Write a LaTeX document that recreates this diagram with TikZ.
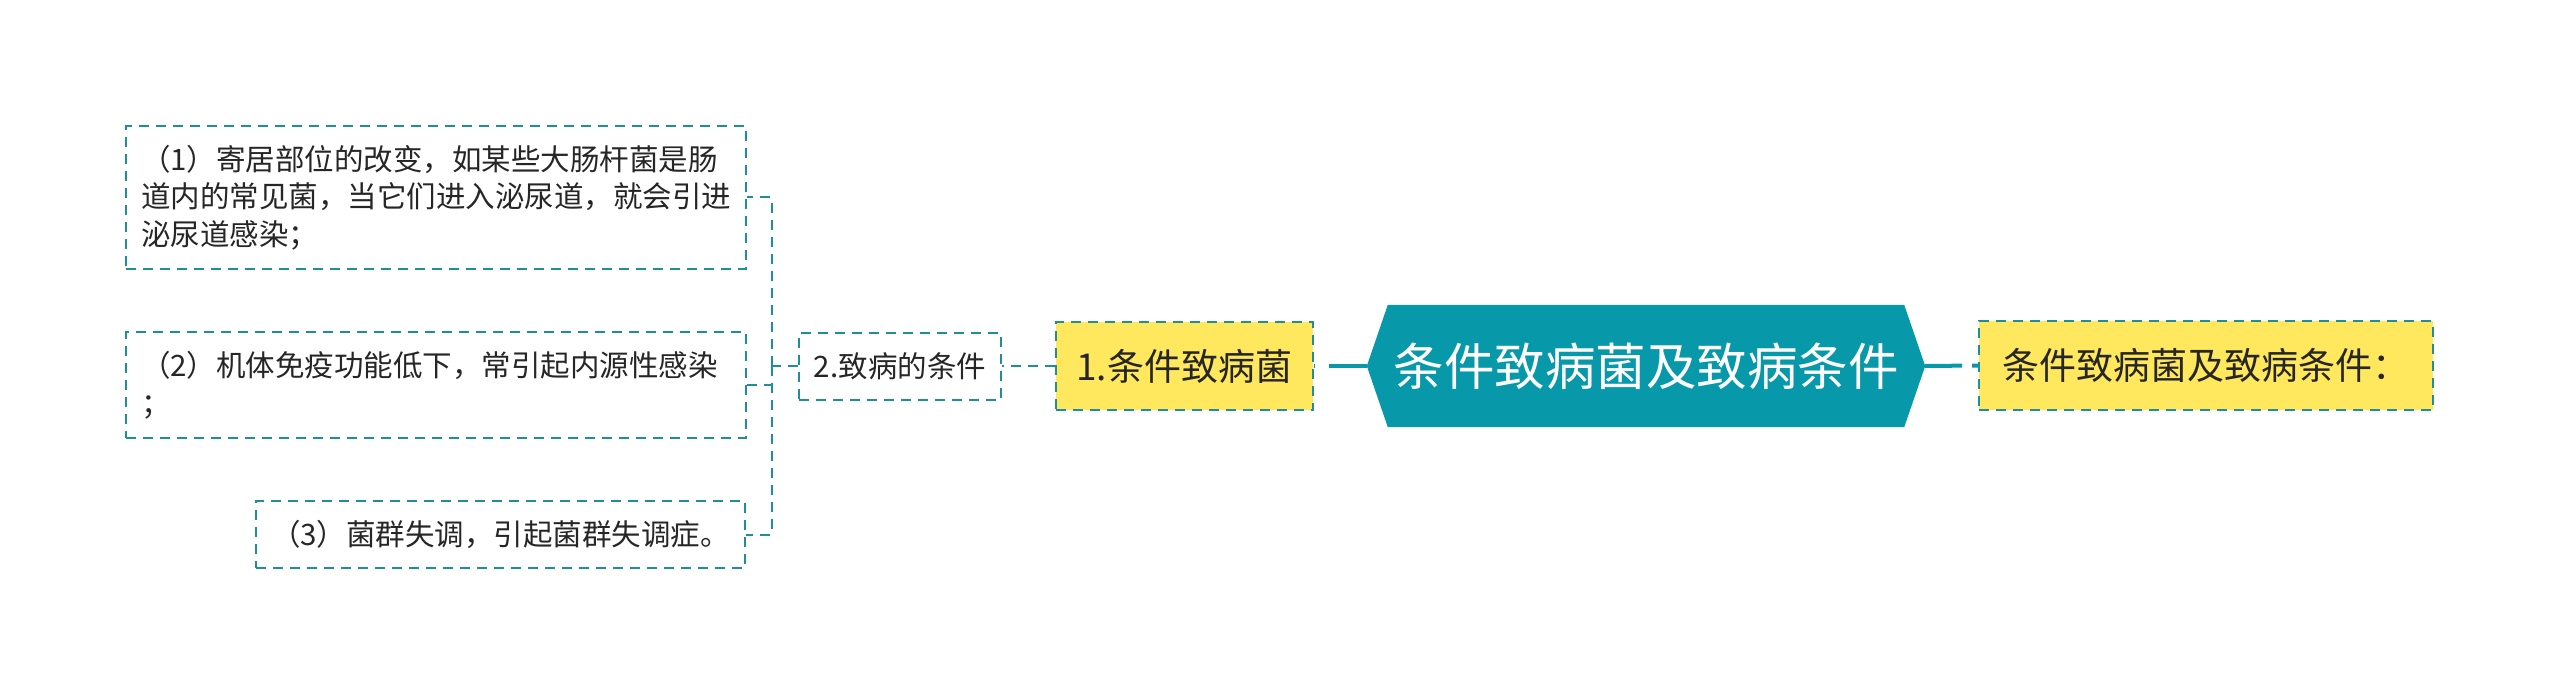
\documentclass[tikz,border=0pt]{standalone}
\usepackage{fontspec}
\setmainfont{Noto Sans CJK SC}
\usetikzlibrary{calc,backgrounds}
\definecolor{rootc}{HTML}{0799A9}
\definecolor{dashc}{HTML}{1E8F99}
\definecolor{yel}{HTML}{FFE75E}
\definecolor{txt}{HTML}{262626}
\tikzset{
  leafbox/.style={draw=dashc, line width=2pt, dash pattern=on 10pt off 7pt,
    inner xsep=15pt, inner ysep=0pt, text=txt, align=left,
    font=\fontsize{29.5}{37.5}\selectfont},
  ybox/.style={draw=dashc, line width=2pt, dash pattern=on 10pt off 7pt,
    fill=yel, inner sep=0pt, text=txt, font=\fontsize{37}{44}\selectfont},
  rootnode/.style={inner sep=0pt, text=white, font=\fontsize{50.5}{60}\selectfont},
  thinlink/.style={draw=dashc, line width=2pt, dash pattern=on 10pt off 7pt},
  mainlink/.style={draw=rootc, line width=4pt},
}
\begin{document}
\begin{tikzpicture}[x=1pt,y=-1pt]
\useasboundingbox (0,0) rectangle (2560,695);
% root
\node[rootnode, minimum width=516pt, minimum height=122pt] (root) at (1646,366) {条件致病菌及致病条件};
\coordinate (rootL) at ($(root.west)+(-21,0)$);
\coordinate (rootR) at ($(root.east)+(21,0)$);
\begin{pgfonlayer}{background}
\fill[rootc] (root.north west) -- (root.north east) -- (rootR) -- (root.south east) -- (root.south west) -- (rootL) -- cycle;
\end{pgfonlayer}
% yellow nodes
\node[ybox, minimum width=257.5pt, minimum height=88pt] (y1) at (1184.25,366) {1.条件致病菌};
\node[ybox, minimum width=453.5pt, minimum height=89pt] (y2) at (2205.75,365.5) {条件致病菌及致病条件：};
% level 2
\node[leafbox, align=center, inner xsep=0pt, minimum width=202pt, minimum height=67pt] (n2) at (900,366) {2.致病的条件};
% leaves
\node[leafbox, text width=590pt, minimum width=618pt, minimum height=143pt] (b1) at (436,197.5)
  {（1）寄居部位的改变，如某些大肠杆菌是肠\\道内的常见菌，当它们进入泌尿道，就会引进\\泌尿道感染；};
\node[leafbox, text width=590pt, minimum width=618pt, minimum height=106pt] (b2) at (436,385)
  {（2）机体免疫功能低下，常引起内源性感染\\；};
\node[leafbox, text width=459pt, minimum width=489pt, minimum height=67pt] (b3) at (500.5,534.5)
  {（3）菌群失调，引起菌群失调症。};
% connectors
\coordinate (spine) at (771.5,366);
\draw[mainlink, dash pattern=on 38pt off 14pt] (rootL) -- (y1.east);
\draw[mainlink, dash pattern=on 37pt off 10pt] (rootR) -- (y2.west);
\draw[thinlink] (y1.west) -- (n2.east);
\draw[thinlink] (n2.west) -- (spine);
\draw[thinlink] (spine) |- (b1.east);
\draw[thinlink] (spine) |- (b2.east);
\draw[thinlink] (spine) |- (b3.east);
\end{tikzpicture}
\end{document}
